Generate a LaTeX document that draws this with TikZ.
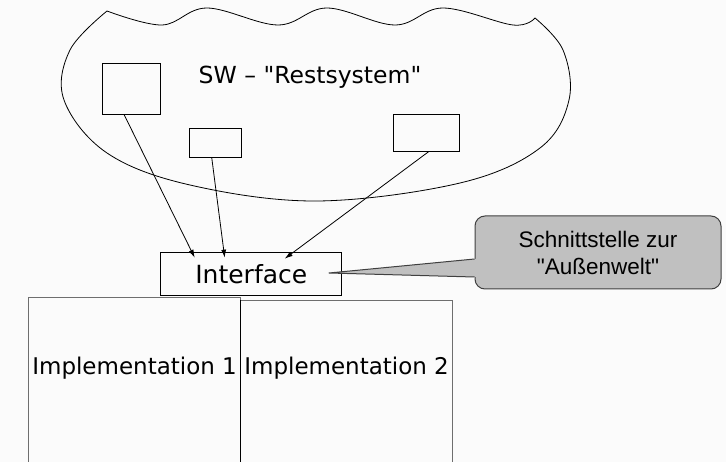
\documentclass[tikz,border=0pt]{standalone}
\usepackage{fontspec}
\setmainfont{DejaVu Sans}
\newfontfamily\arialf{Liberation Sans}
\usetikzlibrary{arrows.meta}
\definecolor{bg}{RGB}{251,251,251}
\definecolor{callfill}{RGB}{192,192,192}
\definecolor{calldraw}{RGB}{64,64,64}
\definecolor{implgray}{RGB}{110,110,110}
\begin{document}
\begin{tikzpicture}[x=1pt,y=-1pt,
  box/.style={draw=black, line width=0.8pt, inner sep=0pt},
  implbox/.style={draw=implgray, line width=1.2pt, inner sep=0pt, minimum width=212pt, minimum height=190pt, anchor=north west},
  impltext/.style={anchor=base, inner sep=0pt, font=\fontsize{23}{27}\selectfont},
  conn/.style={draw=black, line width=0.8pt, -{Latex[length=8pt,width=5pt]}},
  callout/.style={draw=calldraw, fill=callfill, rounded corners=10pt, line width=1pt, minimum width=246pt, minimum height=73pt, align=center, font=\arialf\fontsize{22.5}{27}\selectfont},
  cloudline/.style={line width=0.8pt, line join=round}
]
\useasboundingbox (0,0) rectangle (726,462);
\fill[bg] (0,0) rectangle (726,462);
\clip (0,0) rectangle (726,462);
% cloud
\draw[cloudline] plot[smooth, tension=0.6] coordinates {(107,11) (162,25) (207,8) (278,25) (327,8) (395,25) (443,8) (513,25) (535,18)};
\draw[cloudline] plot[smooth, tension=0.6] coordinates {(535,18) (563,50) (569,100) (540,148) (460,183) (317,201) (190,185) (107,153) (64,100) (70,50) (107,11)};
\node[anchor=base, inner sep=0pt, font=\fontsize{23.5}{28}\selectfont] (sw) at (310,84) {SW \textendash{} \textquotedbl Restsystem\textquotedbl};
% inner boxes
\node[box, minimum width=58pt, minimum height=51pt] (a) at (131,88.5) {};
\node[box, minimum width=52pt, minimum height=29pt] (b) at (215,142.5) {};
\node[box, minimum width=66pt, minimum height=37pt] (c) at (426,132.5) {};
% implementations
\node[implbox] (i1) at (28,297) {};
\node[implbox] (i2) at (240,300) {};
\draw[line width=1pt] (i2.north west) -- (i2.south west);
\node[impltext] (t1) at ([yshift=-78pt]i1.north) {Implementation 1};
\node[impltext] (t2) at ([yshift=-75pt]i2.north) {Implementation 2};
% interface
\node[box, minimum width=181pt, minimum height=43pt, font=\fontsize{25}{30}\selectfont] (iface) at (251.3,274.3) {Interface};
% arrows
\draw[conn] ([xshift=-7pt]a.south) -- ([xshift=34.3pt,yshift=-5.3pt]iface.north west);
\draw[conn] ([xshift=-3.3pt]b.south) -- ([xshift=64.3pt,yshift=-5.3pt]iface.north west);
\draw[conn] ([xshift=3pt]c.south) -- ([xshift=124.3pt,yshift=-6.3pt]iface.north west);
% callout
\coordinate (tip) at (329,273);
\node[callout] (call) at (598,252.5) {Schnittstelle zur\\"Außenwelt"};
\fill[callfill] (tip) -- ([yshift=-6.5pt]call.west) -- ([xshift=3pt,yshift=-6.5pt]call.west) -- ([xshift=3pt,yshift=-24.5pt]call.west) -- ([yshift=-24.5pt]call.west) -- cycle;
\draw[calldraw, line width=1pt, line join=round] ([yshift=-6.5pt]call.west) -- (tip) -- ([yshift=-24.5pt]call.west);
\end{tikzpicture}
\end{document}
